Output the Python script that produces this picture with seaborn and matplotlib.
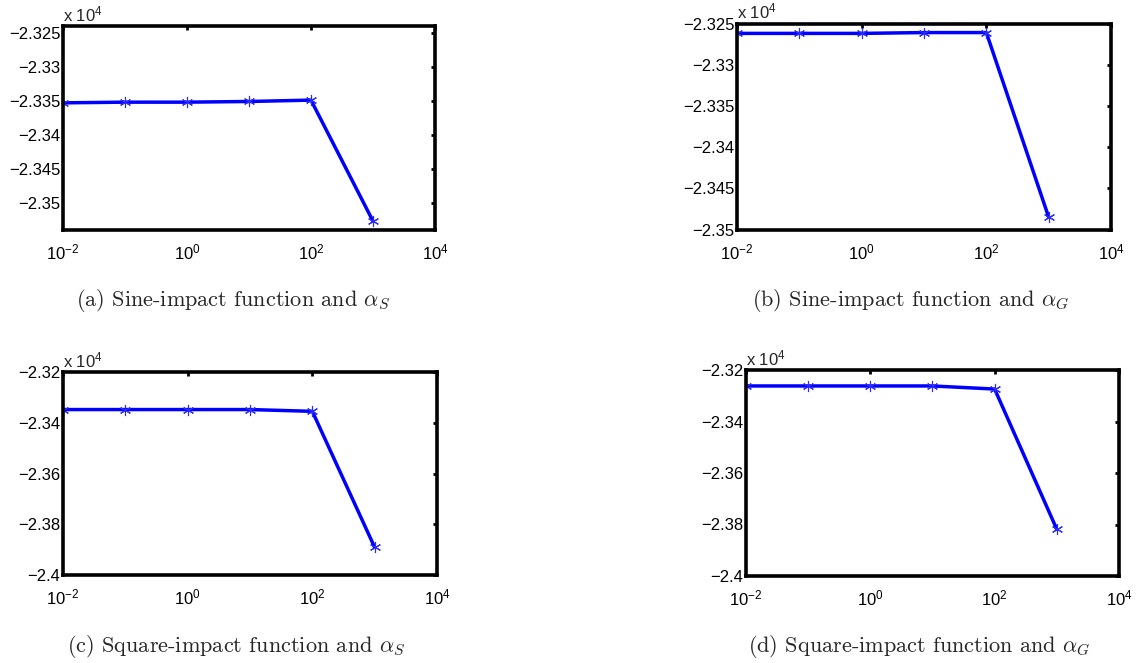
import numpy as np
import pandas as pd
import matplotlib
matplotlib.use("Agg")
import matplotlib.pyplot as plt
from matplotlib.ticker import FuncFormatter, FixedLocator, NullLocator
import seaborn as sns

# alpha values on the log x axis
alpha = [1e-2, 1e-1, 1e0, 1e1, 1e2, 1e3]

# objective values (raw, axis shows them x 10^4)
sine_alpha_s = [-23353, -23352, -23352, -23351, -23349, -23527]
sine_alpha_g = [-23262, -23262, -23262, -23261, -23261, -23485]
square_alpha_s = [-23348, -23348, -23348, -23348, -23355, -23891]
square_alpha_g = [-23262, -23262, -23262, -23262, -23274, -23819]

captions = [r"(a) Sine-impact function and $\alpha_S$",
            r"(b) Sine-impact function and $\alpha_G$",
            r"(c) Square-impact function and $\alpha_S$",
            r"(d) Square-impact function and $\alpha_G$"]
ylims = [(-23540, -23240), (-23500, -23250), (-24000, -23200), (-24000, -23200)]
yticks = [[-23250, -23300, -23350, -23400, -23450, -23500],
          [-23250, -23300, -23350, -23400, -23450, -23500],
          [-23200, -23400, -23600, -23800, -24000],
          [-23200, -23400, -23600, -23800, -24000]]

sns.set_style("white")
plt.rcParams['font.family'] = ['Liberation Sans', 'DejaVu Sans']
plt.rcParams['mathtext.fontset'] = 'custom'
plt.rcParams['mathtext.rm'] = 'Liberation Sans'
plt.rcParams['mathtext.it'] = 'Liberation Sans:italic'

fig = plt.figure(figsize=(11.36, 6.63), dpi=100)
W, H = 1136, 663
# axes boxes in pixels: left, top, right, bottom
boxes = [(63, 26, 435, 230), (737, 23.5, 1111, 229.5),
         (63, 372, 437, 575), (746, 370, 1119, 576)]
series = [sine_alpha_s, sine_alpha_g, square_alpha_s, square_alpha_g]
cap_pos = [(233, 301), (911, 301), (236, 647), (919, 647)]


def ytick_fmt(v, pos):
    return f"{v / 1e4:g}".replace("-", "\u2212")


for i in range(4):
    l, t, r, b = boxes[i]
    ax = fig.add_axes([l / W, 1 - b / H, (r - l) / W, (b - t) / H])
    df = pd.DataFrame({"alpha": alpha, "value": series[i]})
    sns.lineplot(data=df, x="alpha", y="value", ax=ax, color="#0000ff",
                 linewidth=2.5, marker=(6, 2, 0), markersize=8,
                 markeredgewidth=0.8, markeredgecolor="#2a2aff")
    ax.set_xscale("log")
    ax.set_xlim(1e-2, 1e4)
    ax.xaxis.set_major_locator(FixedLocator([1e-2, 1e0, 1e2, 1e4]))
    ax.xaxis.set_minor_locator(NullLocator())
    ax.set_ylim(*ylims[i])
    ax.yaxis.set_major_locator(FixedLocator(yticks[i]))
    ax.yaxis.set_major_formatter(FuncFormatter(ytick_fmt))
    ax.set_xlabel("")
    ax.set_ylabel("")
    ax.tick_params(direction="in", top=True, right=True, length=3, width=2,
                   labelsize=12, colors="black")
    ax.tick_params(axis="y", pad=2)
    ax.tick_params(axis="x", pad=9)
    for s in ax.spines.values():
        s.set_linewidth(2.6)
        s.set_color("black")
    ax.text(0.0, 1.01, r"x 10$^{4}$", transform=ax.transAxes, fontsize=12,
            ha="left", va="bottom")
    cx, cy = cap_pos[i]
    fig.text(cx / W, 1 - cy / H, captions[i], ha="center", va="center",
             fontsize=16, family="cmr10", math_fontfamily="cm")

fig.savefig("out.png", dpi=100)
